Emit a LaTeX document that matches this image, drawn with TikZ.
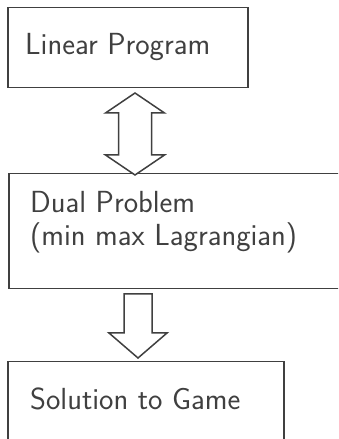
\documentclass[tikz,border=0pt]{standalone}
\usetikzlibrary{calc}
\definecolor{ink}{gray}{0.25}
\begin{document}
\begin{tikzpicture}[x=1pt,y=1pt,
  box/.style={draw=ink,line width=1.5pt,rectangle,inner sep=0pt,anchor=north west},
  lbl/.style={text=ink,font=\sffamily\fontsize{30.5}{35}\selectfont,anchor=base west,inner sep=0pt},
  blockarrow/.style={draw=ink,line width=1.5pt,fill=white,line join=miter}]
\useasboundingbox (0,0) rectangle (338,439);
\clip (0,0) rectangle (338,439);
\fill[white] (0,0) rectangle (338,439);
% boxes
\node[box,minimum width=240,minimum height=80] (lp) at (7,432) {};
\node[box,minimum width=345,minimum height=115] (dual) at (8,266) {};
\node[box,minimum width=276,minimum height=100] (sol) at (7,78) {};
% labels
\node[lbl] (lpt) at (25,384) {Linear Program};
\node[lbl] (dt1) at (30,226) {Dual Problem};
\node[lbl] (dt2) at (30,193) {(min max Lagrangian)};
\node[lbl] (st) at (30,29) {Solution to Game};
% double arrow between lp and dual
\coordinate (da) at (135,346);
\draw[blockarrow] (da) -- ++(29.5,-20) -- ++(-13,0) -- ++(0,-42) -- ++(13,0)
  -- ++(-29.5,-20) -- ++(-29.5,20) -- ++(13,0) -- ++(0,42) -- ++(-13,0) -- cycle;
% single arrow between dual and sol
\coordinate (sa) at (138,81);
\draw[blockarrow] (sa) -- ++(29,25) -- ++(-15,0) -- ++(0,39) -- ++(-28,0)
  -- ++(0,-39) -- ++(-15,0) -- cycle;
\end{tikzpicture}
\end{document}
